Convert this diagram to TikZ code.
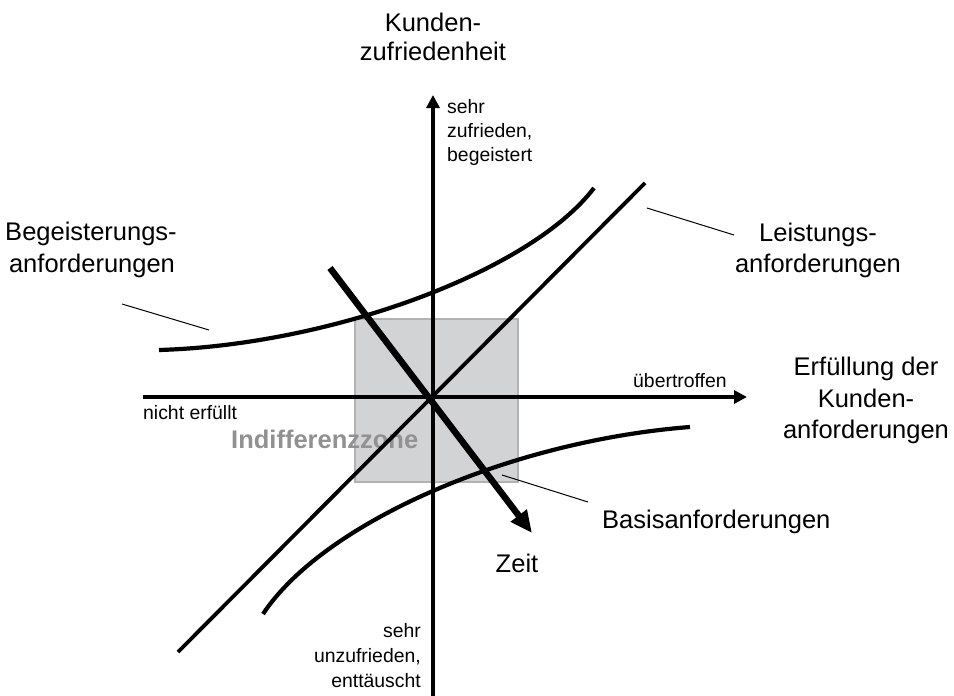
\documentclass[tikz,border=0pt]{standalone}
\usepackage{fontspec}
\setmainfont{Liberation Sans}
\usetikzlibrary{arrows.meta}
\definecolor{zonefill}{RGB}{209,211,212}
\definecolor{zoneline}{RGB}{178,178,178}
\definecolor{zonetext}{RGB}{145,145,145}
\tikzset{
  big/.style={font=\fontsize{25.5}{30}\selectfont, inner sep=0pt, anchor=base},
  small/.style={font=\fontsize{19.4}{24}\selectfont, inner sep=0pt},
  axis/.style={line width=3.8pt, -{Triangle[length=13pt,width=13pt]}},
  curveline/.style={line width=4.2pt},
  pointer/.style={line width=1pt},
  timearrow/.style={line width=6.5pt, -{Triangle[length=22pt,width=19pt]}},
}
\begin{document}
\begin{tikzpicture}[x=1pt,y=-1pt]
\useasboundingbox (0,0) rectangle (954,696);
% zone
\draw[fill=zonefill, draw=zoneline, line width=2pt] (355,319) rectangle (518,482);
\node[anchor=base west, inner sep=0pt, font=\fontsize{25.5}{30}\selectfont\bfseries, text=zonetext] (zone) at (231,448) {Indifferenzzone};
% coordinates
\coordinate (xl) at (143,397);
\coordinate (xr) at (747,397);
\coordinate (yb) at (433,698);
\coordinate (yt) at (433,95);
\coordinate (dl) at (178,652);
\coordinate (dr) at (645,183);
\coordinate (ts) at (330,268);
\coordinate (te) at (532,533);
% axes
\draw[axis] (xl) -- (xr);
\draw[axis] (yb) -- (yt);
% performance line
\draw[line width=3.8pt] (dl) -- (dr);
% curves
\draw[curveline] (159,350) .. controls (330,345) and (530,272) .. (594,188);
\draw[curveline] (263,614) .. controls (323.5,522.7) and (510,441) .. (690,427);
% time arrow
\draw[timearrow] (ts) -- (te);
% pointers
\coordinate (p1a) at (122,304); \coordinate (p1b) at (209,330);
\coordinate (p2a) at (647,208); \coordinate (p2b) at (734,235);
\coordinate (p3a) at (502,475); \coordinate (p3b) at (588,502);
\draw[pointer] (p1a) -- (p1b);
\draw[pointer] (p2a) -- (p2b);
\draw[pointer] (p3a) -- (p3b);
% labels
\node[big] (ky1) at (433,31) {Kunden-};
\node[big] (ky2) at (433,60) {zufriedenheit};
\node[small, anchor=base west] (s1) at (447,113) {sehr};
\node[small, anchor=base west] (s2) at (447,137) {zufrieden,};
\node[small, anchor=base west] (s3) at (447,161) {begeistert};
\node[big] (b1) at (91,240) {Begeisterungs-};
\node[big] (b2) at (92,272) {anforderungen};
\node[big] (l1) at (818,241) {Leistungs-};
\node[big] (l2) at (818,272) {anforderungen};
\node[big] (e1) at (866,375) {Erfüllung der};
\node[big] (e2) at (866,407) {Kunden-};
\node[big] (e3) at (866,438) {anforderungen};
\node[small, anchor=base west] (ue) at (633,387) {übertroffen};
\node[small, anchor=base west] (ne) at (143,419) {nicht erfüllt};
\node[big] (zeit) at (517,572) {Zeit};
\node[big, anchor=base west] (basis) at (602,528) {Basisanforderungen};
\node[small, anchor=base east] (u1) at (421,637) {sehr};
\node[small, anchor=base east] (u2) at (421,662) {unzufrieden,};
\node[small, anchor=base east] (u3) at (421,687) {enttäuscht};
\end{tikzpicture}
\end{document}
